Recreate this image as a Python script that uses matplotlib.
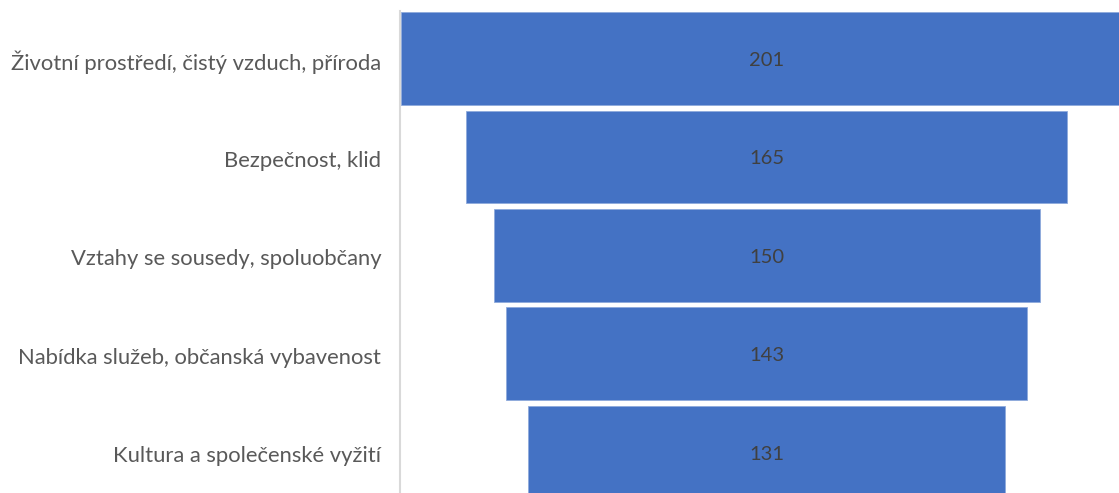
import matplotlib.pyplot as plt

categories = ["Životní prostředí, čistý vzduch, příroda", "Bezpečnost, klid",
              "Vztahy se sousedy, spoluobčany", "Nabídka služeb, občanská vybavenost",
              "Kultura a společenské vyžití"]
values = [201, 165, 150, 143, 131]

plt.rcParams['font.family'] = ['Lato', 'DejaVu Sans']

fig = plt.figure(figsize=(11.19, 4.93), dpi=100)
ax = fig.add_axes([400/1119, 0, 719/1119, 1 - 11/493])

ypos = list(range(len(values)))
ax.barh(ypos, values, left=[-v/2 for v in values], height=0.94,
        color='#4472c4', edgecolor='#8faadc', linewidth=0.6)
for y, v in zip(ypos, values):
    ax.text(0, y + 0.02, str(v), ha='center', va='center', fontsize=14.5, color='#404040')

ax.set_xlim(-100.7, 96.8)
ax.set_ylim(4.416, -0.483)
ax.set_yticks([y + 0.02 for y in ypos])
ax.set_yticklabels(categories, fontsize=15.8, color='#595959')
ax.tick_params(axis='y', length=0, pad=13.5)
ax.set_xticks([])
for s in ['top', 'right', 'bottom']:
    ax.spines[s].set_visible(False)
ax.spines['left'].set_color('#d9d9d9')
ax.spines['left'].set_linewidth(1.5)

fig.savefig('out.png', dpi=100)
